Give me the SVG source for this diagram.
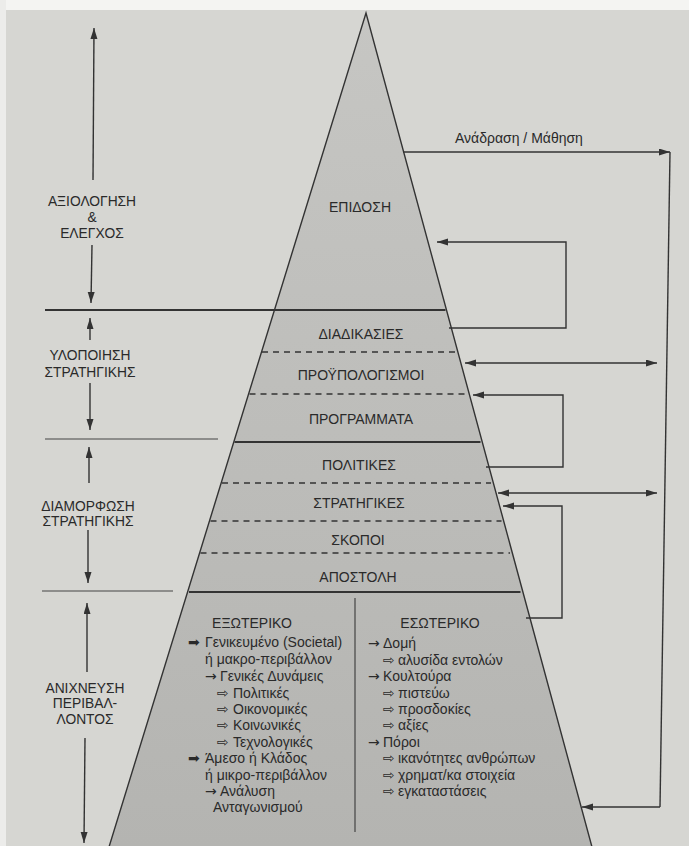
<svg xmlns="http://www.w3.org/2000/svg" width="689" height="846" viewBox="0 0 689 846">
  <style>
    text { font-family: "Liberation Sans", "DejaVu Sans", Arial, sans-serif; fill: #2a2a2a; }
    .lbl { font-size: 13.8px; text-anchor: middle; }
    .lvl { font-size: 14px; text-anchor: middle; }
    .item { font-size: 14px; }
    .sym { font-family: "DejaVu Sans", "Liberation Sans", sans-serif; font-size: 14px; }
    .edge { fill: none; stroke: #333; stroke-width: 1.4; }
    .solid { stroke: #333; stroke-width: 1.8; fill: none; }
    .dash { stroke: #333; stroke-width: 1.6; stroke-dasharray: 6 5; fill: none; }
    .thin { stroke: #444; stroke-width: 1.2; fill: none; }
    .arr { stroke: #333; stroke-width: 1.4; fill: none; marker-end: url(#ah); }
    .arr2 { stroke: #333; stroke-width: 1.4; fill: none; marker-end: url(#ah); marker-start: url(#ah); }
  </style>
  <defs>
    <marker id="ah" markerUnits="userSpaceOnUse" markerWidth="12" markerHeight="8" refX="11" refY="3.5" orient="auto-start-reverse">
      <path d="M0,0 L11,3.5 L0,7 Z" fill="#333"/>
    </marker>
    <linearGradient id="pyr" x1="0" y1="0" x2="0" y2="1">
      <stop offset="0" stop-color="#c6c6c3"/>
      <stop offset="1" stop-color="#b4b4b1"/>
    </linearGradient>
  </defs>

  <!-- page -->
  <rect x="0" y="0" width="689" height="846" fill="#d6d6d2"/>
  <rect x="0" y="0" width="689" height="10" fill="#f4f4f2"/>
  <rect x="0" y="0" width="6" height="846" fill="#ececea"/>

  <!-- pyramid -->
  <g id="pyramid">
    <polygon points="366,13 109,847 592,847" fill="url(#pyr)"/>
    <polyline class="edge" points="109,847 366,13 592,847"/>
  </g>

  <!-- level dividers -->
  <g id="dividers">
    <line class="solid" x1="45" y1="310" x2="445.5" y2="310"/>
    <line class="dash" x1="262" y1="352" x2="456" y2="352"/>
    <line class="dash" x1="249.5" y1="394" x2="467.5" y2="394"/>
    <line class="thin" x1="45" y1="439" x2="218" y2="439"/>
    <line class="solid" x1="234.5" y1="442" x2="480.5" y2="442"/>
    <line class="dash" x1="222" y1="483" x2="491" y2="483"/>
    <line class="dash" x1="210.5" y1="521" x2="501.5" y2="521"/>
    <line class="dash" x1="200.5" y1="553" x2="510" y2="553"/>
    <line class="thin" x1="42" y1="591" x2="173" y2="591"/>
    <line class="solid" x1="189" y1="592" x2="520.5" y2="592"/>
    <line class="thin" x1="355" y1="598" x2="355" y2="832"/>
  </g>

  <!-- pyramid levels -->
  <g id="level-epidosi"><text class="lvl" x="360" y="212">ΕΠΙΔΟΣΗ</text></g>
  <g id="level-diadikasies"><text class="lvl" x="361" y="339">ΔΙΑΔΙΚΑΣΙΕΣ</text></g>
  <g id="level-proypologismoi"><text class="lvl" x="361" y="380">ΠΡΟΫΠΟΛΟΓΙΣΜΟΙ</text></g>
  <g id="level-programmata"><text class="lvl" x="361" y="424">ΠΡΟΓΡΑΜΜΑΤΑ</text></g>
  <g id="level-politikes"><text class="lvl" x="359" y="470">ΠΟΛΙΤΙΚΕΣ</text></g>
  <g id="level-stratigikes"><text class="lvl" x="359" y="508">ΣΤΡΑΤΗΓΙΚΕΣ</text></g>
  <g id="level-skopoi"><text class="lvl" x="358" y="545">ΣΚΟΠΟΙ</text></g>
  <g id="level-apostoli"><text class="lvl" x="358" y="582">ΑΠΟΣΤΟΛΗ</text></g>

  <!-- environment: external -->
  <g id="external">
    <text class="lvl" x="252" y="628">ΕΞΩΤΕΡΙΚΟ</text>
    <text class="item"><tspan class="sym" x="188" y="647">➡</tspan><tspan x="205" y="647">Γενικευμένο (Societal)</tspan></text>
    <text class="item" x="205" y="664">ή μακρο-περιβάλλον</text>
    <text class="item"><tspan class="sym" x="205" y="681">→</tspan><tspan x="220" y="681">Γενικές Δυνάμεις</tspan></text>
    <text class="item"><tspan class="sym" x="217" y="698">⇨</tspan><tspan x="233" y="698">Πολιτικές</tspan></text>
    <text class="item"><tspan class="sym" x="217" y="714">⇨</tspan><tspan x="233" y="714">Οικονομικές</tspan></text>
    <text class="item"><tspan class="sym" x="217" y="730">⇨</tspan><tspan x="233" y="730">Κοινωνικές</tspan></text>
    <text class="item"><tspan class="sym" x="217" y="747">⇨</tspan><tspan x="233" y="747">Τεχνολογικές</tspan></text>
    <text class="item"><tspan class="sym" x="188" y="763">➡</tspan><tspan x="205" y="763">Άμεσο ή Κλάδος</tspan></text>
    <text class="item" x="205" y="780">ή μικρο-περιβάλλον</text>
    <text class="item"><tspan class="sym" x="205" y="796">→</tspan><tspan x="220" y="796">Ανάλυση</tspan></text>
    <text class="item" x="213" y="812">Ανταγωνισμού</text>
  </g>

  <!-- environment: internal -->
  <g id="internal">
    <text class="lvl" x="440" y="628">ΕΣΩΤΕΡΙΚΟ</text>
    <text class="item"><tspan class="sym" x="368" y="648">→</tspan><tspan x="383" y="648">Δομή</tspan></text>
    <text class="item"><tspan class="sym" x="383" y="665">⇨</tspan><tspan x="398" y="665">αλυσίδα εντολών</tspan></text>
    <text class="item"><tspan class="sym" x="368" y="681">→</tspan><tspan x="383" y="681">Κουλτούρα</tspan></text>
    <text class="item"><tspan class="sym" x="383" y="698">⇨</tspan><tspan x="398" y="698">πιστεύω</tspan></text>
    <text class="item"><tspan class="sym" x="383" y="714">⇨</tspan><tspan x="398" y="714">προσδοκίες</tspan></text>
    <text class="item"><tspan class="sym" x="383" y="730">⇨</tspan><tspan x="398" y="730">αξίες</tspan></text>
    <text class="item"><tspan class="sym" x="368" y="747">→</tspan><tspan x="383" y="747">Πόροι</tspan></text>
    <text class="item"><tspan class="sym" x="383" y="763">⇨</tspan><tspan x="398" y="763">ικανότητες ανθρώπων</tspan></text>
    <text class="item"><tspan class="sym" x="383" y="780">⇨</tspan><tspan x="398" y="780">χρηματ/κα στοιχεία</tspan></text>
    <text class="item"><tspan class="sym" x="383" y="796">⇨</tspan><tspan x="398" y="796">εγκαταστάσεις</tspan></text>
  </g>

  <!-- stage labels (left) -->
  <g id="stage-evaluation">
    <text class="lbl" x="92" y="206">ΑΞΙΟΛΟΓΗΣΗ</text>
    <text class="lbl" x="92" y="222">&amp;</text>
    <text class="lbl" x="92" y="238">ΕΛΕΓΧΟΣ</text>
  </g>
  <g id="stage-implementation">
    <text class="lbl" x="90" y="360">ΥΛΟΠΟΙΗΣΗ</text>
    <text class="lbl" x="90" y="377">ΣΤΡΑΤΗΓΙΚΗΣ</text>
  </g>
  <g id="stage-formulation">
    <text class="lbl" x="88" y="511">ΔΙΑΜΟΡΦΩΣΗ</text>
    <text class="lbl" x="88" y="526">ΣΤΡΑΤΗΓΙΚΗΣ</text>
  </g>
  <g id="stage-scanning">
    <text class="lbl" x="85" y="693">ΑΝΙΧΝΕΥΣΗ</text>
    <text class="lbl" x="85" y="708">ΠΕΡΙΒΑΛ-</text>
    <text class="lbl" x="85" y="724">ΛΟΝΤΟΣ</text>
  </g>
  <g id="feedback-label">
    <text class="item" x="455" y="143">Ανάδραση / Μάθηση</text>
  </g>

  <!-- connectors -->
  <g id="connectors">
    <!-- left stage arrows -->
    <line class="arr" x1="93" y1="180" x2="94" y2="28"/>
    <line class="arr" x1="92" y1="245" x2="91" y2="303"/>
    <line class="arr" x1="90" y1="340" x2="90" y2="318"/>
    <line class="arr" x1="90" y1="383" x2="90" y2="430"/>
    <line class="arr" x1="89" y1="483" x2="89" y2="447"/>
    <line class="arr" x1="88" y1="530" x2="88" y2="583"/>
    <line class="arr" x1="87" y1="672" x2="87" y2="603"/>
    <line class="arr" x1="85" y1="738" x2="84" y2="843"/>

    <!-- feedback loop -->
    <line class="arr" x1="403" y1="152" x2="670" y2="152"/>
    <line class="edge" x1="670" y1="152" x2="660" y2="807"/>
    <line class="arr" x1="660" y1="807" x2="582" y2="807"/>

    <!-- brackets -->
    <polyline class="arr" points="449,328 566,328 566,242 437,242"/>
    <line class="arr2" x1="465" y1="363" x2="657" y2="363"/>
    <polyline class="arr" points="486,467 563,467 563,395 473,395"/>
    <line class="arr2" x1="498" y1="493" x2="657" y2="493"/>
    <polyline class="arr" points="526,618 562,618 562,506 503,506"/>
  </g>
</svg>
